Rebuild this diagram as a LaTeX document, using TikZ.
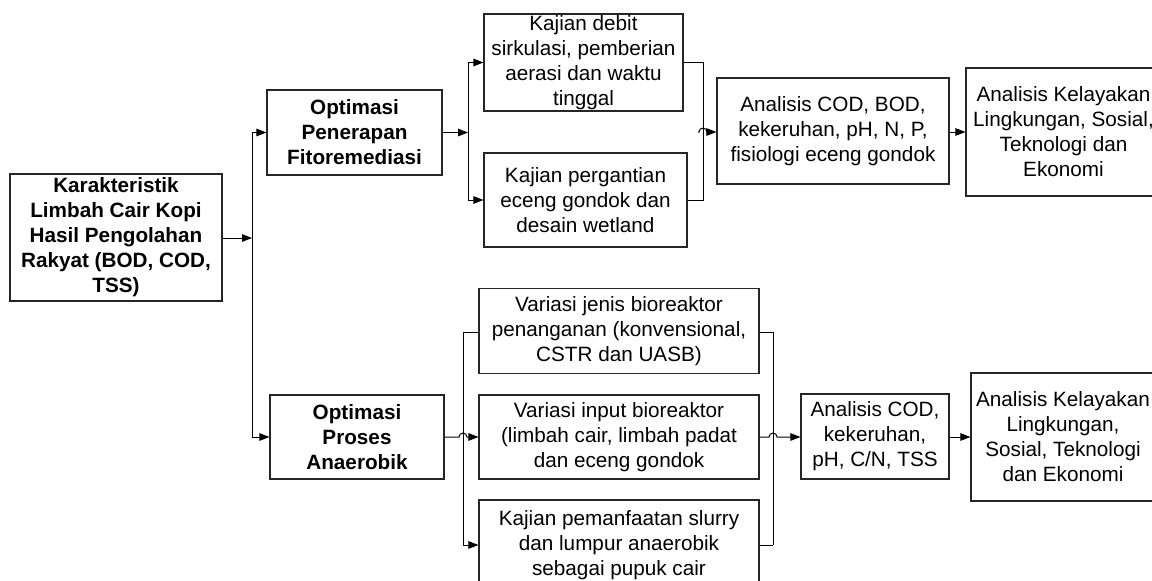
\documentclass[tikz,border=0pt]{standalone}
\usepackage{fontspec}
\setmainfont{Liberation Sans}
\usetikzlibrary{arrows.meta}
\begin{document}
\begin{tikzpicture}[x=1pt,y=-1pt,
  every node/.style={font=\fontsize{20.7}{25}\selectfont},
  box/.style={draw=black!85,line width=1.1pt,fill=white,align=center,inner sep=0pt},
  bbox/.style={box,font=\fontsize{20.7}{25}\selectfont\bfseries},
  conn/.style={line width=1pt,black},
  arr/.style={conn,-{Triangle[length=10pt,width=7.5pt]}}]
\clip (0,0) rectangle (1152,581);
\fill[white] (0,0) rectangle (1152,581);
% nodes
\node[bbox,minimum width=212pt,minimum height=127pt] (K) at (116,237.5)
  {Karakteristik\\Limbah Cair Kopi\\Hasil Pengolahan\\Rakyat (BOD, COD,\\TSS)};
\node[bbox,minimum width=175pt,minimum height=85pt] (F) at (354.5,132.5)
  {Optimasi\\Penerapan\\Fitoremediasi};
\node[bbox,minimum width=174pt,minimum height=84pt] (A) at (357,437)
  {Optimasi\\Proses\\Anaerobik};
\node[box,minimum width=199pt,minimum height=97pt] (T1) at (583.5,62.5)
  {Kajian debit\\sirkulasi, pemberian\\aerasi dan waktu\\tinggal};
\node[box,minimum width=203pt,minimum height=94pt] (T2) at (585.5,200)
  {Kajian pergantian\\eceng gondok dan\\desain wetland};
\node[box,minimum width=232pt,minimum height=106pt] (N1) at (833,131)
  {Analisis COD, BOD,\\kekeruhan, pH, N, P,\\fisiologi eceng gondok};
\node[box,minimum width=195pt,minimum height=128pt] (L1) at (1063.5,132)
  {Analisis Kelayakan\\Lingkungan, Sosial,\\Teknologi dan\\Ekonomi};
\node[box,minimum width=280pt,minimum height=85pt] (B1) at (619,331)
  {Variasi jenis bioreaktor\\penanganan (konvensional,\\CSTR dan UASB)};
\node[box,minimum width=280pt,minimum height=84pt] (B2) at (619,437)
  {Variasi input bioreaktor\\(limbah cair, limbah padat\\dan eceng gondok};
\node[box,minimum width=280pt,minimum height=90pt] (B3) at (619,545)
  {Kajian pemanfaatan slurry\\dan lumpur anaerobik\\sebagai pupuk cair};
\node[box,minimum width=148pt,minimum height=85pt] (N2) at (875,436.5)
  {Analisis COD,\\kekeruhan,\\pH, C/N, TSS};
\node[box,minimum width=184pt,minimum height=128pt] (L2) at (1063,437)
  {Analisis Kelayakan\\Lingkungan,\\Sosial, Teknologi\\dan Ekonomi};
% junction coordinates
\coordinate (s1) at (252,238);
\coordinate (s2) at (468,132.5);
\coordinate (j1) at (703,132);
\coordinate (h1) at (698,132);
\coordinate (v3) at (463,437);
\coordinate (j3) at (773,437);
% main split
\draw[arr] (K.east |- s1) -- (s1);
\draw[arr] (s1) |- (F.west);
\draw[arr] (s1) |- (A.west);
% fitoremediasi branch
\draw[arr] (F.east) -- (s2);
\draw[arr] (s2) |- (T1.west);
\draw[arr] (s2) |- (T2.west);
\draw[conn] (T1.east) -| (j1);
\draw[conn] (T2.east) -| (j1);
\draw[arr] (h1) -- ([xshift=-4pt]j1) arc[start angle=180,end angle=0,radius=4pt] -- (N1.west |- j1);
\draw[arr] (N1.east |- L1) -- (L1.west);
% anaerobik branch
\draw[conn] (B1.west |- 0,332) -| (v3 |- 0,332) -- (v3 |- B3);
\draw[arr] (v3 |- B3) -- (B3.west);
\draw[arr] (A.east) -- ([xshift=-4pt]v3) arc[start angle=180,end angle=0,radius=4pt] -- (B2.west);
\draw[conn] (B1.east |- 0,332) -| (j3 |- 0,332) -- (j3 |- B3);
\draw[conn] (B3.east) -- (j3 |- B3);
\draw[arr] (B2.east) -- ([xshift=-4pt]j3) arc[start angle=180,end angle=0,radius=4pt] -- (N2.west |- j3);
\draw[arr] (N2.east |- L2) -- (L2.west);
\end{tikzpicture}
\end{document}
